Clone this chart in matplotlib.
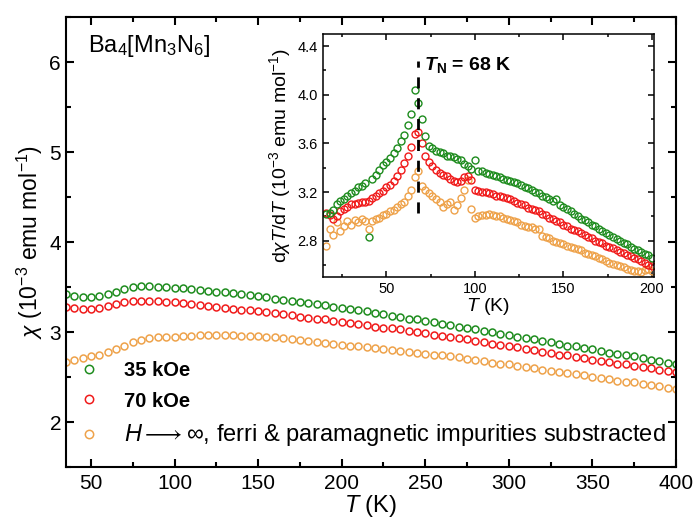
import numpy as np
import matplotlib
matplotlib.use('Agg')
import matplotlib.pyplot as plt
from matplotlib.ticker import MultipleLocator

plt.rcParams['font.family'] = ['Liberation Sans', 'DejaVu Sans']
plt.rcParams['mathtext.fontset'] = 'custom'
plt.rcParams['mathtext.rm'] = 'Liberation Sans'
plt.rcParams['mathtext.it'] = 'Liberation Sans:italic'
plt.rcParams['mathtext.bf'] = 'Liberation Sans:bold'
plt.rcParams['mathtext.bfit'] = 'Liberation Sans:italic:bold'
plt.rcParams['mathtext.fallback'] = 'stixsans'

# main panel: chi(T), every 5 K from 35 to 400 K
T_main = np.arange(35, 401, 5)
chi_35kOe = [3.42, 3.40, 3.39, 3.39, 3.40, 3.42, 3.45, 3.48, 3.50, 3.51,
             3.51, 3.50, 3.50, 3.49, 3.485, 3.48, 3.47, 3.46, 3.45, 3.44,
             3.43, 3.42, 3.41, 3.40, 3.39, 3.37, 3.36, 3.35, 3.33, 3.32,
             3.31, 3.30, 3.28, 3.27, 3.26, 3.24, 3.23, 3.21, 3.20, 3.18,
             3.17, 3.15, 3.14, 3.12, 3.11, 3.09, 3.08, 3.06, 3.05, 3.03,
             3.01, 3.00, 2.98, 2.97, 2.95, 2.93, 2.92, 2.90, 2.89, 2.87,
             2.85, 2.84, 2.82, 2.81, 2.79, 2.77, 2.76, 2.74, 2.73, 2.71,
             2.69, 2.68, 2.66, 2.65]
chi_70kOe = [3.28, 3.27, 3.26, 3.26, 3.27, 3.29, 3.31, 3.33, 3.34, 3.34,
             3.34, 3.34, 3.33, 3.33, 3.32, 3.31, 3.30, 3.29, 3.28, 3.27,
             3.26, 3.25, 3.24, 3.23, 3.22, 3.21, 3.20, 3.19, 3.17, 3.16,
             3.15, 3.14, 3.12, 3.11, 3.10, 3.09, 3.08, 3.06, 3.05, 3.04,
             3.03, 3.01, 3.00, 2.99, 2.97, 2.96, 2.95, 2.93, 2.92, 2.90,
             2.89, 2.87, 2.86, 2.84, 2.83, 2.81, 2.80, 2.78, 2.77, 2.75,
             2.74, 2.72, 2.71, 2.69, 2.68, 2.67, 2.65, 2.64, 2.62, 2.61,
             2.60, 2.58, 2.57, 2.56]
chi_inf = [2.67, 2.69, 2.71, 2.73, 2.75, 2.78, 2.81, 2.85, 2.89, 2.91,
           2.93, 2.94, 2.95, 2.95, 2.96, 2.96, 2.97, 2.97, 2.97, 2.97,
           2.97, 2.96, 2.96, 2.96, 2.95, 2.94, 2.93, 2.92, 2.91, 2.90,
           2.89, 2.88, 2.87, 2.86, 2.85, 2.84, 2.83, 2.82, 2.81, 2.80,
           2.79, 2.78, 2.77, 2.76, 2.75, 2.74, 2.73, 2.72, 2.70, 2.69,
           2.68, 2.66, 2.65, 2.64, 2.62, 2.61, 2.60, 2.58, 2.57, 2.56,
           2.54, 2.53, 2.52, 2.50, 2.49, 2.48, 2.46, 2.45, 2.44, 2.42,
           2.41, 2.40, 2.38, 2.37]

# inset: d(chi T)/dT, every 2 K from 16 to 200 K
T_ins = np.arange(16, 201, 2)
d_35kOe = [3.02, 3.03, 3.05, 3.10, 3.13, 3.14, 3.17, 3.19, 3.21, 3.24,
           3.25, 3.27, 2.83, 3.31, 3.34, 3.38, 3.42, 3.45, 3.48, 3.52,
           3.56, 3.62, 3.67, 3.75, 3.84, 4.04, 3.93, 3.80, 3.66, 3.58,
           3.56, 3.54, 3.53, 3.52, 3.50, 3.50, 3.49, 3.47, 3.46, 3.43,
           3.41, 3.39, 3.46, 3.37, 3.37, 3.36, 3.35, 3.34, 3.33, 3.32,
           3.31, 3.30, 3.29, 3.28, 3.27, 3.26, 3.24, 3.23, 3.22, 3.20,
           3.19, 3.17, 3.16, 3.14, 3.13, 3.14, 3.09, 3.08, 3.06, 3.04,
           3.02, 3.00, 2.98, 2.97, 2.95, 2.93, 2.92, 2.90, 2.88, 2.86,
           2.85, 2.83, 2.81, 2.80, 2.78, 2.77, 2.75, 2.73, 2.72, 2.71,
           2.69, 2.68, 2.66]
d_70kOe = [3.03, 3.01, 2.98, 3.00, 3.04, 3.06, 3.08, 3.10, 3.10, 3.11,
           3.12, 3.12, 3.13, 3.15, 3.17, 3.19, 3.21, 3.24, 3.26, 3.29,
           3.33, 3.38, 3.44, 3.50, 3.57, 3.68, 3.69, 3.60, 3.50, 3.45,
           3.41, 3.38, 3.36, 3.34, 3.33, 3.31, 3.29, 3.28, 3.29, 3.32,
           3.33, 3.30, 3.22, 3.21, 3.20, 3.20, 3.19, 3.18, 3.17, 3.17,
           3.16, 3.15, 3.14, 3.13, 3.11, 3.10, 3.09, 3.07, 3.06, 3.05,
           3.04, 3.02, 3.01, 2.99, 2.98, 2.96, 2.95, 2.93, 2.92, 2.90,
           2.89, 2.88, 2.86, 2.85, 2.83, 2.82, 2.80, 2.79, 2.78, 2.76,
           2.75, 2.74, 2.72, 2.71, 2.70, 2.68, 2.67, 2.66, 2.65, 2.63,
           2.62, 2.60, 2.59]
d_inf = [2.76, 2.90, 2.85, 2.95, 2.88, 2.92, 2.96, 2.93, 2.97, 2.95,
         2.98, 2.96, 2.90, 2.96, 2.98, 2.99, 3.01, 3.02, 3.04, 3.05,
         3.08, 3.10, 3.12, 3.17, 3.22, 3.32, 3.37, 3.25, 3.22, 3.19,
         3.17, 3.14, 3.12, 3.08, 3.10, 3.12, 3.05, 3.09, 3.15, 3.22,
         3.30, 3.06, 2.99, 3.00, 3.01, 3.01, 3.02, 3.01, 3.00, 3.00,
         2.99, 2.98, 2.97, 2.96, 2.95, 2.93, 2.92, 2.91, 2.91, 2.90,
         2.90, 2.84, 2.83, 2.82, 2.80, 2.79, 2.78, 2.77, 2.76, 2.75,
         2.74, 2.73, 2.72, 2.70, 2.69, 2.68, 2.67, 2.66, 2.65, 2.63,
         2.62, 2.61, 2.60, 2.59, 2.58, 2.57, 2.56, 2.55, 2.55, 2.54,
         2.56, 2.57, 2.55]

T_N = 68

c_green = '#1e8c1e'
c_red = '#f01a1a'
c_orange = '#eea24a'


def style_ax(ax, lw, ln, labsize):
    for s in ax.spines.values():
        s.set_linewidth(lw)
    ax.tick_params(which='both', direction='in', top=True, right=True,
                   width=lw, labelsize=labsize)
    ax.tick_params(which='major', length=ln)
    ax.tick_params(which='minor', length=ln * 0.55)


def main():
    fig = plt.figure(figsize=(6.94, 5.21), dpi=100)
    ax = fig.add_axes([0.095, 0.1036, 0.879, 0.8636])

    mk = dict(ls='none', marker='o', mfc='none', ms=5.0, mew=1.1)
    ax.plot(T_main, chi_35kOe, color=c_green, label='35 kOe', **mk)
    ax.plot(T_main, chi_70kOe, color=c_red, label='70 kOe', **mk)
    ax.plot(T_main, chi_inf, color=c_orange,
            label=r'$H \longrightarrow \infty$, ferri & paramagnetic impurities substracted',
            **mk)

    ax.set_xlim(35, 400)
    ax.set_ylim(1.5, 6.5)
    ax.xaxis.set_major_locator(MultipleLocator(50))
    ax.xaxis.set_minor_locator(MultipleLocator(25))
    ax.yaxis.set_major_locator(MultipleLocator(1))
    ax.yaxis.set_minor_locator(MultipleLocator(0.5))
    style_ax(ax, 1.5, 6, 15)
    ax.tick_params(axis='x', pad=5)
    ax.set_xlabel(r'$T$ (K)', fontsize=17, labelpad=0)
    ax.set_ylabel(r'$\chi$ (10$^{-3}$ emu mol$^{-1}$)', fontsize=16.5, labelpad=3)
    ax.text(0.036, 0.935, r'Ba$_4$[Mn$_3$N$_6$]', transform=ax.transAxes,
            fontsize=17, va='center')

    leg = ax.legend(loc='upper left', bbox_to_anchor=(0.02, 0.235), frameon=False,
                    borderaxespad=0, borderpad=0, handlelength=1.0,
                    handletextpad=1.2, labelspacing=0.55, numpoints=1,
                    fontsize=15, markerscale=1.2)
    texts = leg.get_texts()
    for t in texts[:2]:
        t.set_fontweight('bold')
        t.set_fontsize(14.5)
    texts[2].set_fontsize(17)

    # inset
    ins = fig.add_axes([0.465, 0.468, 0.477, 0.467])
    mk2 = dict(ls='none', marker='o', mfc='none', ms=5.0, mew=1.0)
    ins.plot(T_ins, d_inf, color=c_orange, **mk2)
    ins.plot(T_ins, d_70kOe, color=c_red, **mk2)
    ins.plot(T_ins, d_35kOe, color=c_green, **mk2)
    ins.plot([T_N, T_N], [3.03, 4.28], color='black', lw=2.0, ls=(0, (4, 3.5)))
    ins.text(T_N + 3, 4.24, r'$\mathbfit{T}_\mathbf{N}$ = 68 K', fontsize=14,
             fontweight='bold', va='center')
    ins.set_xlim(14, 201)
    ins.set_ylim(2.5, 4.5)
    ins.xaxis.set_major_locator(MultipleLocator(50))
    ins.xaxis.set_minor_locator(MultipleLocator(25))
    ins.yaxis.set_major_locator(MultipleLocator(0.4))
    ins.yaxis.set_minor_locator(MultipleLocator(0.2))
    ins.yaxis.set_major_formatter(plt.FormatStrFormatter('%.1f'))
    style_ax(ins, 1.1, 4, 10.5)
    ins.set_xlabel(r'$T$ (K)', fontsize=14, labelpad=0)
    ins.set_ylabel(r'd$\chi T$/d$T$ (10$^{-3}$ emu mol$^{-1}$)', fontsize=14,
                   labelpad=3)

    fig.savefig('out.png', dpi=100)


if __name__ == '__main__':
    main()
